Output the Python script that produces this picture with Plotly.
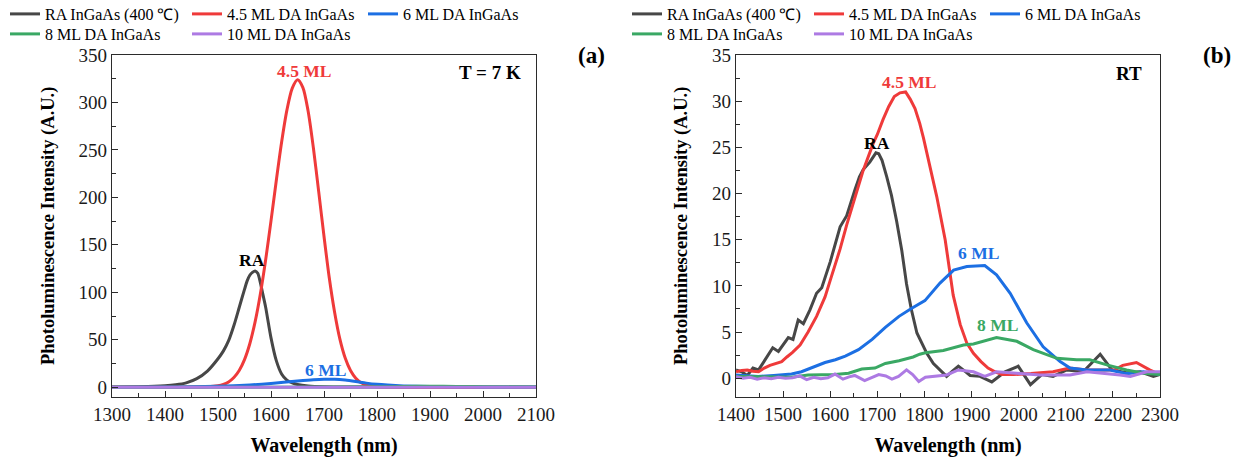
import plotly.graph_objects as go

W, H = 1244, 463
FONT = "Liberation Serif"

# ---------------- Panel (a): PL spectra at T = 7 K ----------------
ra_7k_wl = [1300, 1350, 1380, 1400, 1420, 1440, 1460, 1480, 1500, 1510, 1520, 1530, 1540,
            1550, 1555, 1560, 1565, 1570, 1575, 1580, 1585, 1590, 1600, 1610, 1620, 1630,
            1640, 1650, 1670, 1700, 1800, 1900, 2000, 2100]
ra_7k_pl = [0.2, 0.5, 0.9, 1.5, 2.6, 4.6, 9.0, 17, 30, 38, 49, 65, 84,
            103, 112, 118, 121, 122.5, 120, 110, 97, 84, 52, 28, 14, 7.5,
            4.5, 2.8, 1.2, 0.4, 0.1, 0, 0, 0]

ml45_7k_wl = [1300, 1400, 1450, 1480, 1500, 1510, 1520, 1530, 1540, 1550, 1560, 1570, 1580,
              1590, 1600, 1610, 1620, 1630, 1640, 1650, 1660, 1670, 1680, 1690, 1700, 1710,
              1720, 1730, 1740, 1750, 1760, 1770, 1780, 1790, 1800, 1850, 1900, 2000, 2100]
ml45_7k_pl = [0, 0, 0.1, 0.4, 1.5, 2.9, 5.6, 10.2, 17.6, 29.1, 45.8, 68.8, 98.5,
              134.5, 175.2, 217.8, 258.1, 291.9, 314.9, 324, 316, 291, 252, 206, 159, 115,
              79, 50.6, 30.7, 17.6, 9.5, 4.8, 2.3, 1.0, 0.5, 0.1, 0, 0, 0]

ml6_7k_wl = [1300, 1400, 1450, 1500, 1550, 1600, 1650, 1680, 1700, 1720, 1740, 1760, 1780,
             1800, 1820, 1850, 1900, 1950, 2000, 2100]
ml6_7k_pl = [0, 0.2, 0.5, 1.0, 2.0, 4.0, 6.5, 7.8, 8.3, 8.3, 7.5, 6.0, 4.3,
             3.0, 2.2, 1.4, 0.8, 0.5, 0.3, 0.2]

ml8_7k_wl = [1300, 1700, 1800, 1850, 1900, 1950, 2000, 2100]
ml8_7k_pl = [0, 0.1, 0.4, 0.8, 1.0, 0.8, 0.5, 0.2]

ml10_7k_wl = [1300, 1500, 1700, 1900, 2100]
ml10_7k_pl = [0, 0, 0, 0, 0]

# ---------------- Panel (b): PL spectra at room temperature ----------------
ra_rt_wl = [1400, 1412, 1424, 1436, 1448, 1460, 1470, 1478, 1490, 1500, 1511, 1521, 1532,
            1543, 1557, 1571, 1582, 1600, 1610, 1621, 1635, 1645, 1653, 1662, 1670, 1684,
            1697, 1703, 1710, 1720, 1730, 1741, 1752, 1762, 1772, 1784, 1796, 1805, 1819,
            1833, 1847, 1860, 1872, 1885, 1897, 1918, 1943, 1971, 1999, 2025, 2049, 2073,
            2102, 2137, 2173, 2198, 2229, 2258, 2286, 2300]
ra_rt_pl = [0.9, 0.7, 0.3, 1.1, 0.9, 1.9, 2.7, 3.3, 2.9, 3.6, 4.4, 4.2, 6.3,
            5.9, 7.4, 9.2, 9.8, 12.6, 14.4, 16.4, 17.6, 19.3, 20.5, 21.8, 22.6, 23.4,
            24.4, 24.3, 23.6, 21.8, 19.8, 17.0, 13.8, 10.2, 7.5, 4.9, 3.6, 2.7, 1.6,
            0.9, 0.2, 0.8, 1.3, 0.8, 0.3, 0.2, -0.4, 0.7, 1.3, -0.7, 0.4, 0.2,
            0.9, 0.7, 2.6, 0.9, 0.6, 0.7, 0.2, 0.4]

ml45_rt_wl = [1400, 1412, 1424, 1436, 1448, 1460, 1472, 1484, 1497, 1508, 1520, 1536, 1553,
              1571, 1589, 1600, 1612, 1621, 1635, 1653, 1670, 1691, 1700, 1712, 1724, 1736,
              1748, 1760, 1770, 1780, 1790, 1798, 1812, 1826, 1844, 1861, 1876, 1890, 1904,
              1920, 1935, 1950, 1965, 1989, 2026, 2073, 2108, 2144, 2173, 2204, 2221, 2250,
              2278, 2300]
ml45_rt_pl = [0.7, 0.85, 0.9, 0.75, 0.7, 1.1, 1.4, 1.6, 1.8, 2.3, 2.8, 3.6, 5.0,
              6.7, 8.8, 10.6, 12.5, 14.0, 16.6, 19.7, 22.5, 25.4, 26.4, 28.0, 29.4, 30.5,
              30.9, 31.0, 30.2, 29.2, 27.6, 26.0, 22.9, 19.7, 15.0, 9.0, 5.8, 3.8, 2.7,
              1.8, 1.1, 0.7, 0.4, 0.4, 0.5, 0.7, 1.1, 0.9, 0.9, 0.9, 1.4, 1.7,
              0.9, 0.4]

ml6_rt_wl = [1400, 1420, 1447, 1480, 1518, 1539, 1568, 1589, 1611, 1632, 1660, 1689, 1717,
             1746, 1774, 1801, 1833, 1862, 1890, 1928, 1953, 1982, 2017, 2052, 2088, 2109,
             2145, 2194, 2229, 2265, 2300]
ml6_rt_pl = [0.35, 0.3, 0.2, 0.3, 0.45, 0.7, 1.3, 1.7, 2.0, 2.4, 3.1, 4.2, 5.5,
             6.7, 7.6, 8.4, 10.3, 11.7, 12.1, 12.2, 11.2, 9.2, 6.0, 3.4, 1.8, 1.1,
             0.9, 0.9, 0.5, 0.7, 0.4]

ml8_rt_wl = [1400, 1450, 1518, 1553, 1582, 1610, 1639, 1667, 1695, 1717, 1746, 1776, 1790,
             1802, 1840, 1883, 1904, 1953, 1996, 2031, 2081, 2123, 2151, 2187, 2229, 2265,
             2300]
ml8_rt_pl = [0.2, 0.15, 0.1, 0.35, 0.35, 0.4, 0.55, 1.0, 1.1, 1.6, 1.9, 2.3, 2.6,
             2.75, 3.0, 3.6, 3.7, 4.4, 4.0, 3.1, 2.15, 2.0, 2.0, 1.45, 0.9, 0.55,
             0.4]

ml10_rt_wl = [1400, 1415, 1430, 1445, 1460, 1475, 1490, 1505, 1520, 1535, 1550, 1565, 1580,
              1595, 1610, 1627, 1640, 1652, 1673, 1688, 1703, 1718, 1731, 1745, 1762, 1775,
              1788, 1802, 1818, 1847, 1872, 1904, 1928, 1953, 1996, 2045, 2081, 2109, 2145,
              2180, 2215, 2237, 2272, 2300]
ml10_rt_pl = [0.15, 0.0, 0.1, -0.1, 0.05, -0.05, 0.1, 0.0, 0.05, 0.25, -0.15, 0.1, -0.05,
              0.05, 0.45, -0.1, 0.15, 0.3, -0.25, 0.05, 0.4, 0.25, -0.1, 0.2, 0.9, 0.4,
              -0.35, 0.1, 0.2, 0.35, 0.9, 0.7, 0.2, 0.7, 0.55, 0.35, 0.35, 0.35, 0.7,
              0.55, 0.35, 0.2, 0.7, 0.7]

names = ["RA InGaAs (400 ℃)", "4.5 ML DA InGaAs", "6 ML DA InGaAs",
         "8 ML DA InGaAs", "10 ML DA InGaAs"]
colors = ["#474747", "#ef3a3a", "#1c6fe3", "#3aa864", "#ad7ae3"]

panel_a = [(ra_7k_wl, ra_7k_pl), (ml45_7k_wl, ml45_7k_pl), (ml6_7k_wl, ml6_7k_pl),
           (ml8_7k_wl, ml8_7k_pl), (ml10_7k_wl, ml10_7k_pl)]
panel_b = [(ra_rt_wl, ra_rt_pl), (ml45_rt_wl, ml45_rt_pl), (ml6_rt_wl, ml6_rt_pl),
           (ml8_rt_wl, ml8_rt_pl), (ml10_rt_wl, ml10_rt_pl)]

# legend row/column of each series: first three on row 1, last two on row 2
row_of = [0, 0, 0, 1, 1]
col_width = [137, 131, None, 137, 131]

fig = go.Figure()
for i, (wl, pl) in enumerate(panel_a):
    fig.add_trace(go.Scatter(
        x=wl, y=pl, mode="lines", name=names[i],
        line=dict(color=colors[i], width=3, shape="spline", smoothing=0.8),
        xaxis="x", yaxis="y",
        legend="legend" if row_of[i] == 0 else "legend2",
        legendwidth=col_width[i]))
for i, (wl, pl) in enumerate(panel_b):
    fig.add_trace(go.Scatter(
        x=wl, y=pl, mode="lines", name=names[i],
        line=dict(color=colors[i], width=3),
        xaxis="x2", yaxis="y2",
        legend="legend3" if row_of[i] == 0 else "legend4",
        legendwidth=col_width[i]))

AX_COLOR = "#2b2b2b"
TICK_SIZE = 19
common_axis = dict(
    showline=True, mirror=True, linecolor=AX_COLOR, linewidth=1.4,
    ticks="inside", ticklen=6, tickwidth=1.3, tickcolor=AX_COLOR,
    showgrid=False, zeroline=False,
    tickfont=dict(family=FONT, size=TICK_SIZE, color="#1a1a1a"),
)
y_dom = [(H - 396.7) / H, (H - 55) / H]
x_title = dict(text="<b>Wavelength (nm)</b>", standoff=14,
               font=dict(family=FONT, size=20))
y_title = dict(text="<b>Photoluminescence Intensity (A.U.)</b>", standoff=19,
               font=dict(family=FONT, size=18.5))

fig.update_layout(
    width=W, height=H,
    margin=dict(l=0, r=0, t=0, b=0, autoexpand=False),
    paper_bgcolor="white", plot_bgcolor="white",
    font=dict(family=FONT, size=18, color="black"),
    xaxis=dict(common_axis, domain=[112 / W, 536 / W], range=[1300, 2100],
               tick0=1300, dtick=100,
               minor=dict(ticks="inside", ticklen=3.5, dtick=50, tickcolor=AX_COLOR),
               title=x_title, anchor="y", automargin=False),
    yaxis=dict(common_axis, domain=y_dom, range=[-10, 350], tick0=0, dtick=50,
               minor=dict(ticks="inside", ticklen=3.5, dtick=25, tickcolor=AX_COLOR),
               title=y_title, anchor="x", automargin=False),
    xaxis2=dict(common_axis, domain=[736 / W, 1160 / W], range=[1400, 2300],
                tick0=1400, dtick=100,
                minor=dict(ticks="inside", ticklen=3.5, dtick=50, tickcolor=AX_COLOR),
                title=x_title, anchor="y2", automargin=False),
    yaxis2=dict(common_axis, domain=y_dom, range=[-2, 35], tick0=0, dtick=5,
                minor=dict(ticks="inside", ticklen=3.5, dtick=2.5, tickcolor=AX_COLOR),
                title=y_title, anchor="x2", automargin=False),
)


def legend_row(x_px, y_px):
    return dict(orientation="h", xref="container", yref="container",
                x=x_px / W, y=1 - y_px / H, xanchor="left", yanchor="middle",
                font=dict(family=FONT, size=16, color="black"),
                bgcolor="rgba(0,0,0,0)", borderwidth=0, itemwidth=30)


fig.update_layout(
    legend=legend_row(5, 14), legend2=legend_row(5, 34),
    legend3=legend_row(627, 14), legend4=legend_row(627, 34),
)


def label(text, x, y, color, xref, yref, xanchor="center", size=17.5):
    fig.add_annotation(text=f"<b>{text}</b>", x=x, y=y, xref=xref, yref=yref,
                       xanchor=xanchor, yanchor="middle", showarrow=False,
                       font=dict(family=FONT, size=size, color=color))


# panel (a) peak labels
label("4.5 ML", 1663, 333.5, colors[1], "x", "y")
label("RA", 1564, 134, "black", "x", "y")
label("6 ML", 1702, 18, colors[2], "x", "y")
label("T = 7 K", 2075, 332, "black", "x", "y", xanchor="right", size=19)
# panel (b) peak labels
label("4.5 ML", 1767, 32.1, colors[1], "x2", "y2")
label("RA", 1700, 25.5, "black", "x2", "y2")
label("6 ML", 1914, 13.6, colors[2], "x2", "y2")
label("8 ML", 1955, 5.8, colors[3], "x2", "y2")
label("RT", 2265, 33.0, "black", "x2", "y2", xanchor="right", size=19)
# panel tags
label("(a)", 591.7 / W, 1 - 55 / H, "black", "paper", "paper", size=23)
label("(b)", 1216.7 / W, 1 - 55 / H, "black", "paper", "paper", size=23)

fig.write_html("out.html")
